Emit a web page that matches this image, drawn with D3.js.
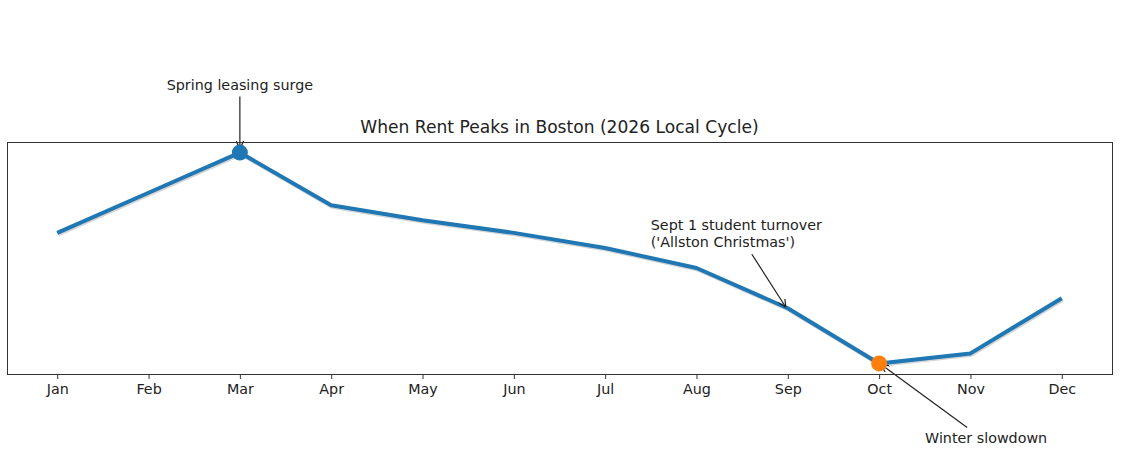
<!DOCTYPE html>
<html>
<head>
<meta charset="utf-8">
<script src="https://cdn.jsdelivr.net/npm/d3@7"></script>
<style>
  body { margin: 0; background: #fff; }
  text { font-family: "DejaVu Sans", sans-serif; fill: #222; }
</style>
</head>
<body>
<script>
// monthly rent (USD)
var months = ["Jan", "Feb", "Mar", "Apr", "May", "Jun", "Jul", "Aug", "Sep", "Oct", "Nov", "Dec"];
var rent = [3290, 3370, 3450, 3345, 3315, 3290, 3260, 3220, 3140, 3030, 3050, 3160];
var peakIdx = 2, lowIdx = 9, turnIdx = 8;

var width = 1125;
var height = 469;
var box = { left: 7, right: 1112, top: 142, bottom: 374 };
var fs = "14.3px";

var svg = d3.select("body").append("svg")
	.attr("width", width)
	.attr("height", height);

// matplotlib-ish 5% margins
var xPad = (months.length - 1) * 0.05;
var x = d3.scaleLinear()
	.domain([-xPad, months.length - 1 + xPad])
	.range([box.left, box.right]);
var yMin = d3.min(rent), yMax = d3.max(rent);
var yPad = (yMax - yMin) * 0.05;
var y = d3.scaleLinear()
	.domain([yMin - yPad, yMax + yPad])
	.range([box.bottom, box.top]);

// title
svg.append("text")
	.attr("x", (box.left + box.right) / 2)
	.attr("y", 133)
	.attr("text-anchor", "middle")
	.attr("font-size", "17.1px")
	.text("When Rent Peaks in Boston (2026 Local Cycle)");

// x axis
var xAxis = d3.axisBottom(x)
	.tickValues(d3.range(months.length))
	.tickFormat(function(d) { return months[d]; })
	.tickSize(5)
	.tickPadding(5)
	.tickSizeOuter(0);
var gx = svg.append("g")
	.attr("transform", "translate(0," + box.bottom + ")")
	.call(xAxis);
gx.select(".domain").remove();
gx.selectAll("line").attr("stroke", "#333");
gx.selectAll("text").attr("font-size", fs).attr("font-family", "DejaVu Sans, sans-serif").attr("fill", "#222");

var line = d3.line()
	.x(function(d, i) { return x(i); })
	.y(function(d) { return y(d); });

// soft shadow under the line
svg.append("path")
	.datum(rent)
	.attr("d", line)
	.attr("transform", "translate(1,1.5)")
	.attr("fill", "none")
	.attr("stroke", "#888")
	.attr("stroke-opacity", 0.35)
	.attr("stroke-width", 4);

svg.append("path")
	.datum(rent)
	.attr("d", line)
	.attr("fill", "none")
	.attr("stroke", "#1f77b4")
	.attr("stroke-width", 4)
	.attr("stroke-linejoin", "round");

// arrow marker
var defs = svg.append("defs");
defs.append("marker")
	.attr("id", "head")
	.attr("viewBox", "0 0 10 10")
	.attr("refX", 10).attr("refY", 5)
	.attr("markerWidth", 8).attr("markerHeight", 8)
	.attr("markerUnits", "userSpaceOnUse")
	.attr("orient", "auto")
	.append("path")
	.attr("d", "M0,0 L10,5 L0,10")
	.attr("fill", "none")
	.attr("stroke", "#222")
	.attr("stroke-width", 1.5);

function arrow(x1, y1, x2, y2) {
	svg.append("line")
		.attr("x1", x1).attr("y1", y1)
		.attr("x2", x2).attr("y2", y2)
		.attr("stroke", "#222")
		.attr("stroke-width", 1.2)
		.attr("marker-end", "url(#head)");
}

// annotations
var px = x(peakIdx), py = y(rent[peakIdx]);
arrow(px, py - 56, px, py - 4);
svg.append("text")
	.attr("x", px).attr("y", py - 63)
	.attr("text-anchor", "middle")
	.attr("font-size", fs)
	.text("Spring leasing surge");

var tx = x(turnIdx), ty = y(rent[turnIdx]);
arrow(tx - 36, ty - 54, tx - 2, ty - 1);
var tt = svg.append("text")
	.attr("x", tx - 137).attr("y", ty - 78)
	.attr("font-size", fs);
tt.append("tspan").attr("x", tx - 137).text("Sept 1 student turnover");
tt.append("tspan").attr("x", tx - 137).attr("dy", "1.2em").text("('Allston Christmas')");

var lx = x(lowIdx), ly = y(rent[lowIdx]);
arrow(lx + 88, ly + 64, lx + 2, ly + 1);
svg.append("text")
	.attr("x", lx + 107).attr("y", ly + 80)
	.attr("text-anchor", "middle")
	.attr("font-size", fs)
	.text("Winter slowdown");

// highlight points
svg.append("circle")
	.attr("cx", px).attr("cy", py).attr("r", 8)
	.attr("fill", "#1f77b4");
svg.append("circle")
	.attr("cx", lx).attr("cy", ly).attr("r", 8)
	.attr("fill", "#ff7f0e");

// frame
svg.append("rect")
	.attr("x", box.left + 0.5).attr("y", box.top + 0.5)
	.attr("width", box.right - box.left)
	.attr("height", box.bottom - box.top)
	.attr("fill", "none")
	.attr("stroke", "#333")
	.attr("stroke-width", 1);
</script>
</body>
</html>
